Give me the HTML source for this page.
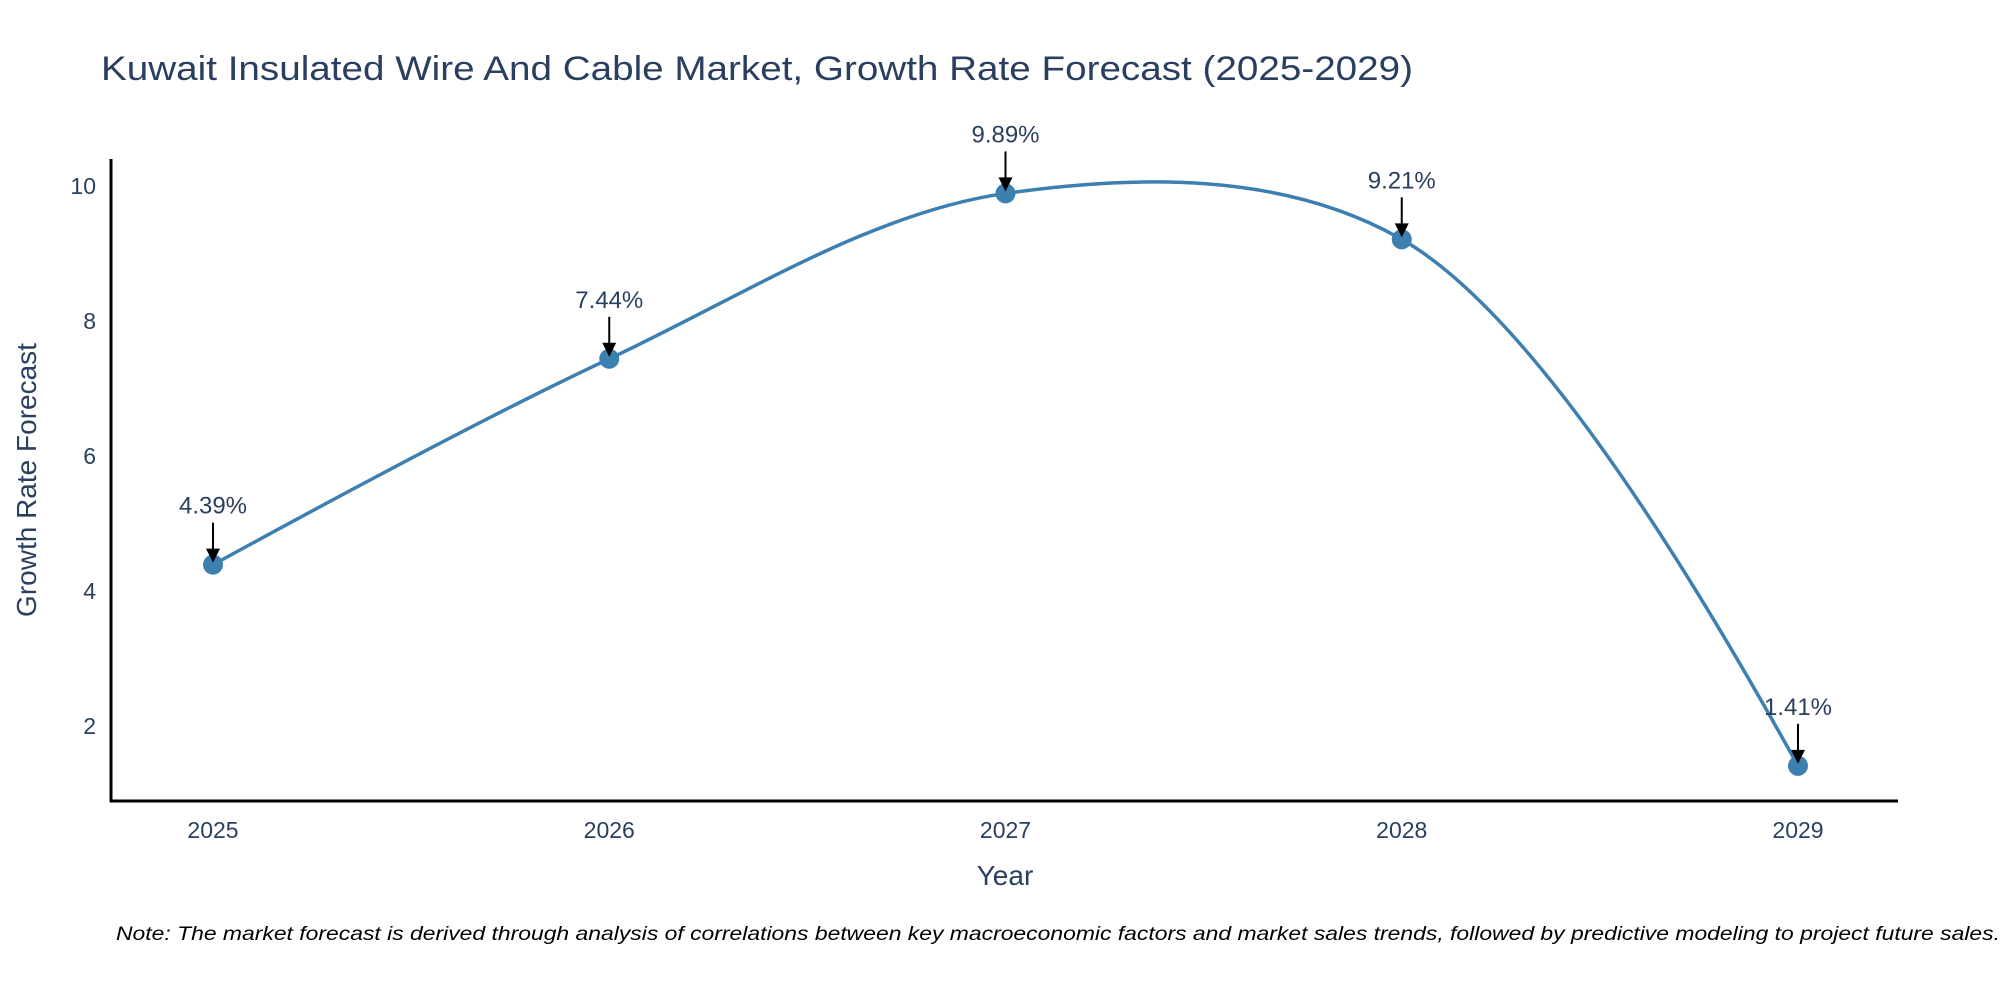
<!DOCTYPE html>
<html><head><meta charset="utf-8"><style>
html,body{margin:0;padding:0;background:#fff;width:2000px;height:1000px;overflow:hidden}
svg text{font-family:"Liberation Sans","DejaVu Sans",sans-serif}
</style></head><body>
<svg id="chart" width="2000" height="1000" viewBox="0 0 2000 1000" xmlns="http://www.w3.org/2000/svg">
<text x="101" y="80" font-size="34" fill="#2a3f5f" textLength="1312" lengthAdjust="spacingAndGlyphs">Kuwait Insulated Wire And Cable Market, Growth Rate Forecast (2025-2029)</text>
<g id="yticks"></g>
<g id="xticks"></g>
<line x1="111" y1="159" x2="111" y2="802" stroke="#000" stroke-width="3"/>
<line x1="110" y1="801" x2="1898" y2="801" stroke="#000" stroke-width="3"/>
<text transform="translate(36,480) rotate(-90)" text-anchor="middle" font-size="28" fill="#2a3f5f">Growth Rate Forecast</text>
<text x="1005" y="885" text-anchor="middle" font-size="28" fill="#2a3f5f">Year</text>
<g id="series"></g>
<g id="annots"></g>
<text x="116" y="940" font-size="19" font-style="italic" fill="#000" textLength="1884" lengthAdjust="spacingAndGlyphs">Note: The market forecast is derived through analysis of correlations between key macroeconomic factors and market sales trends, followed by predictive modeling to project future sales.</text>
</svg>
<script>
const years = [2025, 2026, 2027, 2028, 2029];
const values = [4.39, 7.44, 9.89, 9.21, 1.41];
const yTickValues = [2, 4, 6, 8, 10];
const NS = "http://www.w3.org/2000/svg";
function xs(i){ return 213 + i * 396.25; }
function ys(v){ return 186 + (10 - v) * 67.5; }
function mk(tag, attrs, parent){ const e=document.createElementNS(NS,tag); for(const k in attrs) e.setAttribute(k,attrs[k]); parent.appendChild(e); return e; }
const yt=document.getElementById('yticks'), xt=document.getElementById('xticks'), sg=document.getElementById('series'), an=document.getElementById('annots');
yTickValues.forEach(v=>{
  const t=mk('text',{x:96,y:ys(v)+8,'text-anchor':'end','font-size':23,fill:'#2a3f5f'},yt);
  
  
  t.textContent=v;
});
years.forEach((yr,i)=>{
  const t=mk('text',{x:xs(i),y:838,'text-anchor':'middle','font-size':23,fill:'#2a3f5f'},xt);
  
  
  t.textContent=yr;
});
const pts=values.map((v,i)=>[xs(i),ys(v)]);
function tangent(p,c,n,s){
  const d1x=p[0]-c[0],d1y=p[1]-c[1],d2x=n[0]-c[0],d2y=n[1]-c[1];
  const d1a=Math.pow(d1x*d1x+d1y*d1y,0.25),d2a=Math.pow(d2x*d2x+d2y*d2y,0.25);
  const nx=(d2a*d2a*d1x-d1a*d1a*d2x)*s,ny=(d2a*d2a*d1y-d1a*d1a*d2y)*s;
  const den1=3*d2a*(d1a+d2a),den2=3*d1a*(d1a+d2a);
  return [[c[0]+nx/den1,c[1]+ny/den1],[c[0]-nx/den2,c[1]-ny/den2]];
}
const tg=[];
for(let i=1;i<pts.length-1;i++) tg.push(tangent(pts[i-1],pts[i],pts[i+1],1));
let d='M'+pts[0]+'Q'+tg[0][0]+' '+pts[1];
for(let i=1;i<pts.length-2;i++) d+='C'+tg[i-1][1]+' '+tg[i][0]+' '+pts[i+1];
d+='Q'+tg[tg.length-1][1]+' '+pts[pts.length-1];
const line=mk('path',{d:d,fill:'none',stroke:'#3d7fb0','stroke-width':3.5},sg);


pts.forEach((p,i)=>{
  const c=mk('circle',{cx:p[0],cy:p[1],r:10,fill:'#3d7fb0'},sg);
  
  
  const l=mk('line',{x1:p[0],y1:p[1]-42,x2:p[0],y2:p[1]-14,stroke:'#000','stroke-width':2},an);
  
  
  const h=mk('polygon',{points:`${p[0]-7},${p[1]-16} ${p[0]+7},${p[1]-16} ${p[0]},${p[1]-2}`,fill:'#000'},an);
  
  
  const t=mk('text',{x:p[0],y:p[1]-51,'text-anchor':'middle','font-size':24,fill:'#2a3f5f'},an);
  
  
  t.textContent=values[i].toFixed(2)+'%';
});
</script>
</body></html>
